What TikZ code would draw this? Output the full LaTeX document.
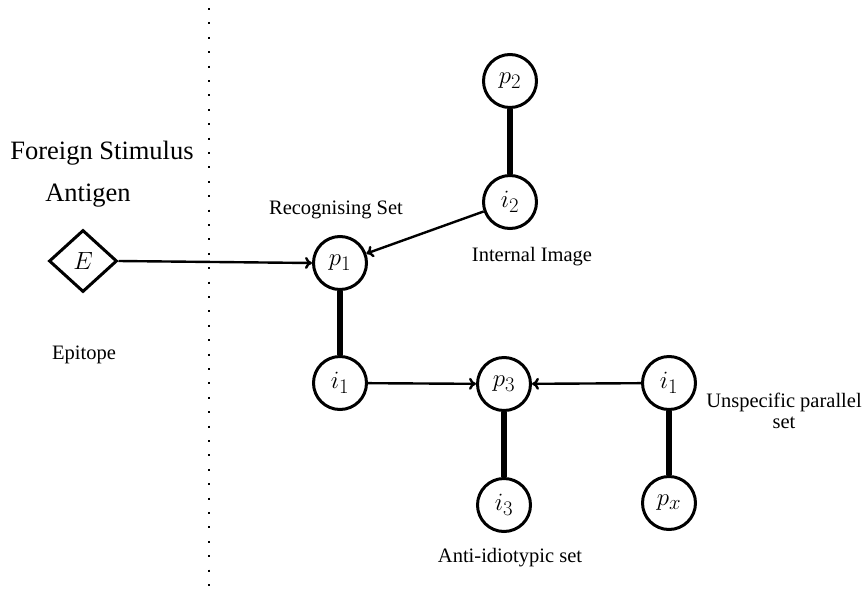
\documentclass[tikz,border=0pt]{standalone}
\usepackage{fontspec}
\setmainfont{Liberation Serif}
\usetikzlibrary{shapes.geometric,arrows.meta}
\begin{document}
\begin{tikzpicture}[x=1pt,y=-1pt,
  circ/.style={circle,draw,line width=3pt,minimum size=53pt,inner sep=0pt,font=\fontsize{28}{32}\selectfont},
  dia/.style={diamond,draw,line width=3pt,minimum width=68pt,minimum height=62pt,inner sep=0pt,font=\fontsize{28}{32}\selectfont},
  bigtxt/.style={font=\fontsize{26.5}{31}\selectfont,inner sep=0pt,anchor=base},
  smalltxt/.style={font=\fontsize{20.5}{22}\selectfont,inner sep=0pt,anchor=base},
  conn/.style={line width=2.4pt,-{To[length=7pt,width=12pt]}},
  bond/.style={line width=6pt},
  sep/.style={line width=2.2pt,dash pattern=on 2pt off 12.4pt}
]
\useasboundingbox (0,0) rectangle (865,592);
% separator
\coordinate (st) at (209,8);
\coordinate (sb) at (209,588);
\draw[sep] (st) -- (sb);
% nodes
\node[dia] (E) at (83,261) {$E$};
\node[circ] (p1) at (340,263) {$p_1$};
\node[circ] (i1) at (340,383) {$i_1$};
\node[circ] (p3) at (504,384) {$p_3$};
\node[circ] (i3) at (504,505) {$i_3$};
\node[circ] (i1b) at (669,383) {$i_1$};
\node[circ] (px) at (669,503) {$p_x$};
\node[circ] (p2) at (510,81) {$p_2$};
\node[circ] (i2) at (510,202) {$i_2$};
% labels
\node[bigtxt] (fs) at (102,159) {Foreign Stimulus};
\node[bigtxt] (ag) at (88,201) {Antigen};
\node[smalltxt] (ep) at (84,359) {Epitope};
\node[smalltxt] (rs) at (336,214) {Recognising Set};
\node[smalltxt] (ii) at (532,261) {Internal Image};
\node[smalltxt] (as) at (510,562) {Anti-idiotypic set};
\node[font=\fontsize{20.5}{21}\selectfont,inner sep=0pt,align=center] (us) at (784,411) {Unspecific parallel\\set};
% connectors
\draw[conn] (E.east) -- (p1.west);
\draw[conn] (i2) -- (p1);
\draw[conn] (i1) -- (p3);
\draw[conn] (i1b) -- (p3);
\draw[bond] (p1) -- (i1);
\draw[bond] (p2) -- (i2);
\draw[bond] (p3) -- (i3);
\draw[bond] (i1b) -- (px);
\end{tikzpicture}
\end{document}
